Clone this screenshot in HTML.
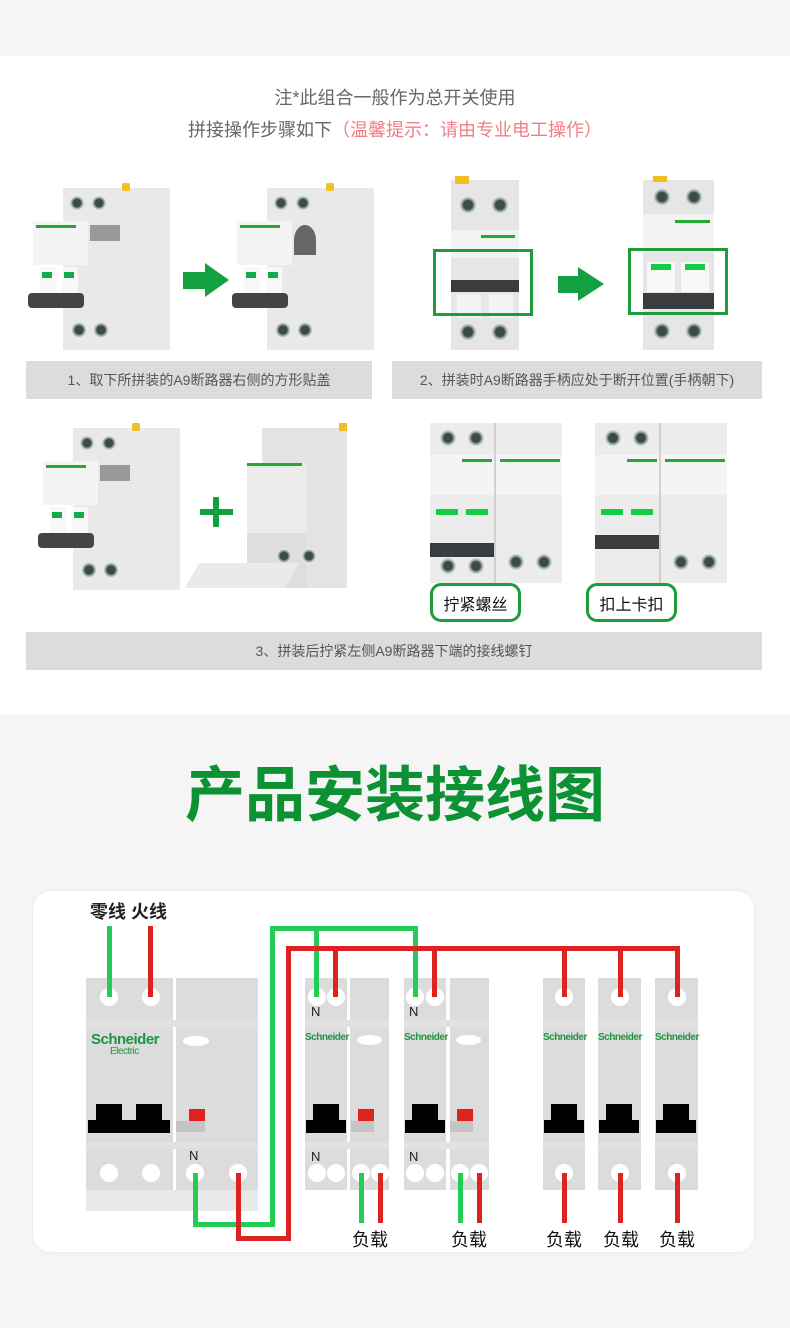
<!DOCTYPE html>
<html><head><meta charset="utf-8">
<style>
*{margin:0;padding:0;box-sizing:border-box}
body{width:790px;height:1328px;position:relative;background:#fff;font-family:"Liberation Sans","Noto Sans CJK SC",sans-serif;overflow:hidden}
.a{position:absolute}
.bar{position:absolute;background:#dcdcdc;color:#555;font-size:14px;display:flex;align-items:center;justify-content:center}
.scr{position:absolute;border-radius:50%;background:radial-gradient(circle,#3c4a48 0 35%,#9aa 50%,#eee 70%);}
.gbox{position:absolute;border:3px solid #1e9c3c}
.lbl{position:absolute;border:3px solid #1e9c3c;border-radius:11px;background:#fff;font-size:16px;color:#111;display:flex;align-items:center;justify-content:center}
.mod{position:absolute;background:#dcdcdc}
.t{position:absolute;width:18px;height:18px;border-radius:50%;background:#fff}
.w{position:absolute}
.g{background:#22cc55}
.r{background:#dd2222}
.sch{position:absolute;color:#1d9440;font-weight:bold;font-size:10px;letter-spacing:-0.5px}
.load{position:absolute;font-size:18px;color:#111;top:1226px}
</style></head><body>
<div class="a" style="left:0;top:0;width:790px;height:56px;background:#f5f5f5"></div>
<div class="a" style="left:0;top:84px;width:790px;text-align:center;font-size:18px;color:#666">注*此组合一般作为总开关使用</div>
<div class="a" style="left:0;top:116px;width:790px;text-align:center;font-size:18px;color:#666">拼接操作步骤如下<span style="color:#ee7f86">（温馨提示：请由专业电工操作）</span></div>

<!-- photo 1 -->
<div class="a" style="left:28px;top:183px;width:145px;height:167px">
 <div class="a" style="left:35px;top:5px;width:107px;height:162px;background:#e9e9e9"></div>
 <div class="a" style="left:94px;top:0;width:8px;height:8px;background:#f0c020;border-radius:2px"></div>
 <div class="scr" style="left:42px;top:12px;width:14px;height:16px"></div>
 <div class="scr" style="left:64px;top:12px;width:14px;height:16px"></div>
 <div class="a" style="left:5px;top:38px;width:55px;height:44px;background:#f4f4f4"></div>
 <div class="a" style="left:8px;top:42px;width:40px;height:3px;background:#2a3"></div>
 <div class="a" style="left:62px;top:42px;width:30px;height:16px;background:#999"></div>
 <div class="a" style="left:12px;top:84px;width:16px;height:30px;background:#f8f8f8"></div>
 <div class="a" style="left:34px;top:84px;width:16px;height:30px;background:#f8f8f8"></div>
 <div class="a" style="left:14px;top:89px;width:10px;height:6px;background:#1a4"></div>
 <div class="a" style="left:36px;top:89px;width:10px;height:6px;background:#1a4"></div>
 <div class="a" style="left:0;top:110px;width:56px;height:15px;background:#444;border-radius:4px"></div>
 <div class="scr" style="left:44px;top:138px;width:14px;height:18px"></div>
 <div class="scr" style="left:66px;top:138px;width:14px;height:18px"></div>
</div>
<div class="a" style="left:183px;top:272px;width:24px;height:17px;background:#12a040"></div>
<div class="a" style="left:205px;top:263px;width:0;height:0;border-top:17px solid transparent;border-bottom:17px solid transparent;border-left:24px solid #12a040"></div>
<!-- photo 2 -->
<div class="a" style="left:232px;top:183px;width:145px;height:167px">
 <div class="a" style="left:35px;top:5px;width:107px;height:162px;background:#e9e9e9"></div>
 <div class="a" style="left:94px;top:0;width:8px;height:8px;background:#f0c020;border-radius:2px"></div>
 <div class="scr" style="left:42px;top:12px;width:14px;height:16px"></div>
 <div class="scr" style="left:64px;top:12px;width:14px;height:16px"></div>
 <div class="a" style="left:5px;top:38px;width:55px;height:44px;background:#f4f4f4"></div>
 <div class="a" style="left:8px;top:42px;width:40px;height:3px;background:#2a3"></div>
 <div class="a" style="left:62px;top:42px;width:22px;height:30px;border-radius:50% 50% 0 0;background:#666"></div>
 <div class="a" style="left:12px;top:84px;width:16px;height:30px;background:#f8f8f8"></div>
 <div class="a" style="left:34px;top:84px;width:16px;height:30px;background:#f8f8f8"></div>
 <div class="a" style="left:14px;top:89px;width:10px;height:6px;background:#1a4"></div>
 <div class="a" style="left:36px;top:89px;width:10px;height:6px;background:#1a4"></div>
 <div class="a" style="left:0;top:110px;width:56px;height:15px;background:#444;border-radius:4px"></div>
 <div class="scr" style="left:44px;top:138px;width:14px;height:18px"></div>
 <div class="scr" style="left:66px;top:138px;width:14px;height:18px"></div>
</div>
<!-- photo 3 -->
<div class="a" style="left:451px;top:180px;width:68px;height:170px;background:#e6e6e6">
 <div class="a" style="left:4px;top:-4px;width:14px;height:8px;background:#f0c020"></div>
 <div class="scr" style="left:8px;top:16px;width:18px;height:18px"></div>
 <div class="scr" style="left:40px;top:16px;width:18px;height:18px"></div>
 <div class="a" style="left:0;top:50px;width:68px;height:28px;background:#f2f2f2"></div>
 <div class="a" style="left:30px;top:55px;width:34px;height:3px;background:#2a3"></div>
 <div class="a" style="left:0;top:100px;width:68px;height:12px;background:#3a3d40"></div>
 <div class="a" style="left:6px;top:114px;width:24px;height:24px;background:#f4f4f4"></div>
 <div class="a" style="left:38px;top:114px;width:24px;height:24px;background:#f4f4f4"></div>
 <div class="scr" style="left:8px;top:143px;width:18px;height:18px"></div>
 <div class="scr" style="left:40px;top:143px;width:18px;height:18px"></div>
</div>
<div class="gbox" style="left:433px;top:249px;width:100px;height:67px"></div>
<div class="a" style="left:558px;top:276px;width:22px;height:17px;background:#12a040"></div>
<div class="a" style="left:578px;top:267px;width:0;height:0;border-top:17px solid transparent;border-bottom:17px solid transparent;border-left:26px solid #12a040"></div>
<!-- photo 4 -->
<div class="a" style="left:643px;top:180px;width:71px;height:170px;background:#e6e6e6">
 <div class="a" style="left:10px;top:-4px;width:14px;height:6px;background:#f0c020"></div>
 <div class="scr" style="left:10px;top:8px;width:18px;height:18px"></div>
 <div class="scr" style="left:42px;top:8px;width:18px;height:18px"></div>
 <div class="a" style="left:0;top:34px;width:71px;height:38px;background:#f2f2f2"></div>
 <div class="a" style="left:32px;top:40px;width:35px;height:3px;background:#2a3"></div>
 <div class="a" style="left:4px;top:82px;width:28px;height:30px;background:#f8f8f8"></div>
 <div class="a" style="left:38px;top:82px;width:28px;height:30px;background:#f8f8f8"></div>
 <div class="a" style="left:8px;top:84px;width:20px;height:6px;background:#1c4"></div>
 <div class="a" style="left:42px;top:84px;width:20px;height:6px;background:#1c4"></div>
 <div class="a" style="left:0;top:113px;width:71px;height:16px;background:#3a3d40"></div>
 <div class="scr" style="left:10px;top:142px;width:18px;height:18px"></div>
 <div class="scr" style="left:42px;top:142px;width:18px;height:18px"></div>
</div>
<div class="gbox" style="left:628px;top:248px;width:100px;height:67px"></div>

<div class="bar" style="left:26px;top:361px;width:346px;height:38px">1、取下所拼装的A9断路器右侧的方形贴盖</div>
<div class="bar" style="left:392px;top:361px;width:370px;height:38px">2、拼装时A9断路器手柄应处于断开位置(手柄朝下)</div>

<!-- row 2 left -->
<div class="a" style="left:38px;top:423px;width:145px;height:167px">
 <div class="a" style="left:35px;top:5px;width:107px;height:162px;background:#e9e9e9"></div>
 <div class="a" style="left:94px;top:0;width:8px;height:8px;background:#f0c020;border-radius:2px"></div>
 <div class="scr" style="left:42px;top:12px;width:14px;height:16px"></div>
 <div class="scr" style="left:64px;top:12px;width:14px;height:16px"></div>
 <div class="a" style="left:5px;top:38px;width:55px;height:44px;background:#f4f4f4"></div>
 <div class="a" style="left:8px;top:42px;width:40px;height:3px;background:#2a3"></div>
 <div class="a" style="left:62px;top:42px;width:30px;height:16px;background:#999"></div>
 <div class="a" style="left:12px;top:84px;width:16px;height:30px;background:#f8f8f8"></div>
 <div class="a" style="left:34px;top:84px;width:16px;height:30px;background:#f8f8f8"></div>
 <div class="a" style="left:14px;top:89px;width:10px;height:6px;background:#1a4"></div>
 <div class="a" style="left:36px;top:89px;width:10px;height:6px;background:#1a4"></div>
 <div class="a" style="left:0;top:110px;width:56px;height:15px;background:#444;border-radius:4px"></div>
 <div class="scr" style="left:44px;top:138px;width:14px;height:18px"></div>
 <div class="scr" style="left:66px;top:138px;width:14px;height:18px"></div>
</div>
<div class="a" style="left:200px;top:509px;width:33px;height:6px;background:#12a040"></div>
<div class="a" style="left:213px;top:497px;width:6px;height:30px;background:#12a040"></div>
<div class="a" style="left:192px;top:423px;width:165px;height:169px">
 <div class="a" style="left:70px;top:5px;width:85px;height:160px;background:#e4e4e4"></div>
 <div class="a" style="left:55px;top:40px;width:60px;height:70px;background:#ececec"></div>
 <div class="a" style="left:55px;top:40px;width:55px;height:3px;background:#2a3"></div>
 <div class="a" style="left:55px;top:110px;width:60px;height:55px;background:#dedede"></div>
 <div class="a" style="left:0;top:140px;width:100px;height:25px;background:#eaeaea;transform:skewX(-30deg)"></div>
 <div class="scr" style="left:85px;top:125px;width:14px;height:16px"></div>
 <div class="scr" style="left:110px;top:125px;width:14px;height:16px"></div>
 <div class="a" style="left:147px;top:0;width:8px;height:8px;background:#f0c020"></div>
</div>
<!-- row 2 right pairs -->
<div class="a" style="left:430px;top:423px;width:132px;height:160px;background:#ececec">
 <div class="scr" style="left:10px;top:6px;width:16px;height:18px"></div>
 <div class="scr" style="left:38px;top:6px;width:16px;height:18px"></div>
 <div class="a" style="left:0;top:32px;width:132px;height:40px;background:#f4f4f4"></div>
 <div class="a" style="left:32px;top:36px;width:30px;height:3px;background:#2a3"></div>
 <div class="a" style="left:70px;top:36px;width:60px;height:3px;background:#2a3"></div>
 <div class="a" style="left:6px;top:86px;width:22px;height:6px;background:#1c4"></div>
 <div class="a" style="left:36px;top:86px;width:22px;height:6px;background:#1c4"></div>
 <div class="a" style="left:0;top:123px;width:64px;height:14px;background:#3a3d40;top:120px"></div>
 <div class="a" style="left:64px;top:0;width:2px;height:160px;background:#d0d0d0"></div>
 <div class="scr" style="left:10px;top:134px;width:16px;height:18px"></div>
 <div class="scr" style="left:38px;top:134px;width:16px;height:18px"></div>
 <div class="scr" style="left:78px;top:130px;width:16px;height:18px"></div>
 <div class="scr" style="left:106px;top:130px;width:16px;height:18px"></div>
</div>
<div class="a" style="left:595px;top:423px;width:132px;height:160px;background:#ececec">
 <div class="scr" style="left:10px;top:6px;width:16px;height:18px"></div>
 <div class="scr" style="left:38px;top:6px;width:16px;height:18px"></div>
 <div class="a" style="left:0;top:32px;width:132px;height:40px;background:#f4f4f4"></div>
 <div class="a" style="left:32px;top:36px;width:30px;height:3px;background:#2a3"></div>
 <div class="a" style="left:70px;top:36px;width:60px;height:3px;background:#2a3"></div>
 <div class="a" style="left:6px;top:86px;width:22px;height:6px;background:#1c4"></div>
 <div class="a" style="left:36px;top:86px;width:22px;height:6px;background:#1c4"></div>
 <div class="a" style="left:0;top:112px;width:64px;height:14px;background:#3a3d40"></div>
 <div class="a" style="left:64px;top:0;width:2px;height:160px;background:#d0d0d0"></div>
 <div class="scr" style="left:78px;top:130px;width:16px;height:18px"></div>
 <div class="scr" style="left:106px;top:130px;width:16px;height:18px"></div>
</div>
<div class="lbl" style="left:430px;top:583px;width:91px;height:39px">拧紧螺丝</div>
<div class="lbl" style="left:586px;top:583px;width:91px;height:39px">扣上卡扣</div>
<div class="bar" style="left:26px;top:632px;width:736px;height:38px">3、拼装后拧紧左侧A9断路器下端的接线螺钉</div>

<!-- section 2 -->
<div class="a" style="left:0;top:715px;width:790px;height:613px;background:#f5f5f5"></div>
<div class="a" style="left:0;top:758px;width:790px;text-align:center;font-size:60px;font-weight:bold;color:#0c9232;line-height:76px">产品安装接线图</div>
<div class="a" style="left:33px;top:891px;width:721px;height:361px;background:#fff;border-radius:18px;box-shadow:0 0 4px #e6e6e6"></div>
<div class="a" style="left:90px;top:898px;font-size:18px;font-weight:bold;color:#222">零线 火线</div>

<!-- modules -->
<div class="mod" style="left:86px;top:978px;width:87px;height:212px"></div>
<div class="mod" style="left:176px;top:978px;width:82px;height:212px"></div>
<div class="a" style="left:86px;top:1190px;width:172px;height:21px;background:#e9e9e9"></div>
<div class="a" style="left:86px;top:1020px;width:172px;height:7px;background:#e2e2e2"></div>
<div class="a" style="left:86px;top:1142px;width:172px;height:7px;background:#e2e2e2"></div>
<div class="sch" style="left:91px;top:1031px;font-size:15px">Schneider</div>
<div class="sch" style="left:110px;top:1046px;font-size:10px;font-weight:normal">Electric</div>
<div class="a" style="left:183px;top:1036px;width:26px;height:10px;border-radius:50%;background:#fff"></div>
<div class="a" style="left:96px;top:1104px;width:26px;height:18px;background:#000"></div>
<div class="a" style="left:136px;top:1104px;width:26px;height:18px;background:#000"></div>
<div class="a" style="left:88px;top:1120px;width:82px;height:13px;background:#000"></div>
<div class="a" style="left:189px;top:1109px;width:16px;height:12px;background:#dd2222"></div>
<div class="a" style="left:176px;top:1121px;width:29px;height:11px;background:#c4c4c4"></div>

<div class="mod" style="left:305px;top:978px;width:42px;height:212px"></div>
<div class="mod" style="left:350px;top:978px;width:39px;height:212px"></div>
<div class="mod" style="left:404px;top:978px;width:42px;height:212px"></div>
<div class="mod" style="left:450px;top:978px;width:39px;height:212px"></div>
<div class="mod" style="left:543px;top:978px;width:42px;height:212px"></div>
<div class="mod" style="left:598px;top:978px;width:43px;height:212px"></div>
<div class="mod" style="left:655px;top:978px;width:43px;height:212px"></div>
<div class="a" style="left:305px;top:1020px;width:84px;height:7px;background:#e2e2e2"></div>
<div class="a" style="left:404px;top:1020px;width:85px;height:7px;background:#e2e2e2"></div>
<div class="a" style="left:543px;top:1020px;width:155px;height:7px;background:#e2e2e2"></div>
<div class="a" style="left:585px;top:1020px;width:13px;height:7px;background:#fff"></div>
<div class="a" style="left:641px;top:1020px;width:14px;height:7px;background:#fff"></div>
<div class="a" style="left:305px;top:1142px;width:84px;height:7px;background:#e2e2e2"></div>
<div class="a" style="left:404px;top:1142px;width:85px;height:7px;background:#e2e2e2"></div>
<div class="a" style="left:543px;top:1142px;width:155px;height:7px;background:#e2e2e2"></div>
<div class="a" style="left:585px;top:1142px;width:13px;height:7px;background:#fff"></div>
<div class="a" style="left:641px;top:1142px;width:14px;height:7px;background:#fff"></div>
<div class="sch" style="left:305px;top:1032px">Schneider</div>
<div class="sch" style="left:404px;top:1032px">Schneider</div>
<div class="sch" style="left:543px;top:1032px">Schneider</div>
<div class="sch" style="left:598px;top:1032px">Schneider</div>
<div class="sch" style="left:655px;top:1032px">Schneider</div>
<div class="a" style="left:357px;top:1035px;width:25px;height:10px;border-radius:50%;background:#fff"></div>
<div class="a" style="left:456px;top:1035px;width:25px;height:10px;border-radius:50%;background:#fff"></div>
<!-- small handles -->
<div class="a" style="left:313px;top:1104px;width:26px;height:18px;background:#000"></div>
<div class="a" style="left:306px;top:1120px;width:40px;height:13px;background:#000"></div>
<div class="a" style="left:412px;top:1104px;width:26px;height:18px;background:#000"></div>
<div class="a" style="left:405px;top:1120px;width:40px;height:13px;background:#000"></div>
<div class="a" style="left:551px;top:1104px;width:26px;height:18px;background:#000"></div>
<div class="a" style="left:544px;top:1120px;width:40px;height:13px;background:#000"></div>
<div class="a" style="left:606px;top:1104px;width:26px;height:18px;background:#000"></div>
<div class="a" style="left:599px;top:1120px;width:40px;height:13px;background:#000"></div>
<div class="a" style="left:663px;top:1104px;width:26px;height:18px;background:#000"></div>
<div class="a" style="left:656px;top:1120px;width:40px;height:13px;background:#000"></div>
<div class="a" style="left:358px;top:1109px;width:16px;height:12px;background:#dd2222"></div>
<div class="a" style="left:351px;top:1121px;width:23px;height:11px;background:#c4c4c4"></div>
<div class="a" style="left:457px;top:1109px;width:16px;height:12px;background:#dd2222"></div>
<div class="a" style="left:450px;top:1121px;width:23px;height:11px;background:#c4c4c4"></div>

<!-- terminals -->
<div class="t" style="left:100px;top:988px"></div><div class="t" style="left:142px;top:988px"></div>
<div class="t" style="left:100px;top:1164px"></div><div class="t" style="left:142px;top:1164px"></div>
<div class="t" style="left:186px;top:1164px"></div><div class="t" style="left:229px;top:1164px"></div>
<div class="t" style="left:308px;top:988px"></div><div class="t" style="left:327px;top:988px"></div>
<div class="t" style="left:308px;top:1164px"></div><div class="t" style="left:327px;top:1164px"></div>
<div class="t" style="left:352px;top:1164px"></div><div class="t" style="left:371px;top:1164px"></div>
<div class="t" style="left:406px;top:988px"></div><div class="t" style="left:426px;top:988px"></div>
<div class="t" style="left:406px;top:1164px"></div><div class="t" style="left:426px;top:1164px"></div>
<div class="t" style="left:451px;top:1164px"></div><div class="t" style="left:470px;top:1164px"></div>
<div class="t" style="left:555px;top:988px"></div><div class="t" style="left:611px;top:988px"></div><div class="t" style="left:668px;top:988px"></div>
<div class="t" style="left:555px;top:1164px"></div><div class="t" style="left:611px;top:1164px"></div><div class="t" style="left:668px;top:1164px"></div>
<div class="a" style="left:189px;top:1148px;font-size:13px;color:#222">N</div>
<div class="a" style="left:311px;top:1004px;font-size:13px;color:#222">N</div>
<div class="a" style="left:311px;top:1149px;font-size:13px;color:#222">N</div>
<div class="a" style="left:409px;top:1004px;font-size:13px;color:#222">N</div>
<div class="a" style="left:409px;top:1149px;font-size:13px;color:#222">N</div>

<!-- wires -->
<div class="w g" style="left:107px;top:926px;width:5px;height:71px"></div>
<div class="w r" style="left:148px;top:926px;width:5px;height:71px"></div>
<div class="w g" style="left:193px;top:1173px;width:5px;height:53px"></div>
<div class="w g" style="left:193px;top:1222px;width:82px;height:5px"></div>
<div class="w g" style="left:270px;top:926px;width:5px;height:301px"></div>
<div class="w g" style="left:270px;top:926px;width:148px;height:5px"></div>
<div class="w g" style="left:314px;top:926px;width:5px;height:71px"></div>
<div class="w g" style="left:413px;top:926px;width:5px;height:71px"></div>
<div class="w r" style="left:236px;top:1173px;width:5px;height:68px"></div>
<div class="w r" style="left:236px;top:1236px;width:55px;height:5px"></div>
<div class="w r" style="left:286px;top:946px;width:5px;height:295px"></div>
<div class="w r" style="left:286px;top:946px;width:394px;height:5px"></div>
<div class="w r" style="left:333px;top:946px;width:5px;height:51px"></div>
<div class="w r" style="left:432px;top:946px;width:5px;height:51px"></div>
<div class="w r" style="left:562px;top:946px;width:5px;height:51px"></div>
<div class="w r" style="left:618px;top:946px;width:5px;height:51px"></div>
<div class="w r" style="left:675px;top:946px;width:5px;height:51px"></div>
<div class="w g" style="left:359px;top:1173px;width:5px;height:50px"></div>
<div class="w r" style="left:378px;top:1173px;width:5px;height:50px"></div>
<div class="w g" style="left:458px;top:1173px;width:5px;height:50px"></div>
<div class="w r" style="left:477px;top:1173px;width:5px;height:50px"></div>
<div class="w r" style="left:562px;top:1173px;width:5px;height:50px"></div>
<div class="w r" style="left:618px;top:1173px;width:5px;height:50px"></div>
<div class="w r" style="left:675px;top:1173px;width:5px;height:50px"></div>
<div class="load" style="left:352px">负载</div>
<div class="load" style="left:451px">负载</div>
<div class="load" style="left:546px">负载</div>
<div class="load" style="left:603px">负载</div>
<div class="load" style="left:659px">负载</div>
</body></html>
